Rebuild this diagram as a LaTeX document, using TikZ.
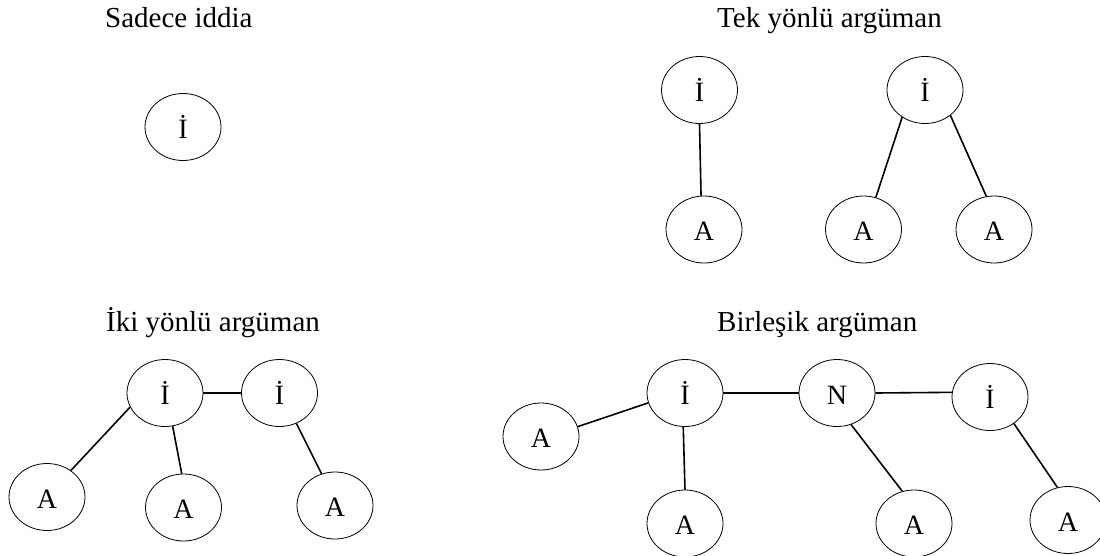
\documentclass[tikz,border=0pt]{standalone}
\usepackage{fontspec}
\setmainfont{Liberation Serif}
\usetikzlibrary{shapes.geometric}
\begin{document}
\begin{tikzpicture}[x=1pt,y=-1pt,
  claim/.style={draw, ellipse, line width=0.8pt, minimum width=76pt, minimum height=67pt,
    inner sep=0pt, text height=22pt, text depth=0pt, font=\fontsize{28}{32}\selectfont},
  title/.style={anchor=base west, inner sep=0pt, font=\fontsize{29}{34}\selectfont},
  link/.style={line width=1.6pt}]
\useasboundingbox (0,0) rectangle (1100,555);

% Sadece iddia
\node[title] (t1) at (105,27) {Sadece iddia};
\node[claim] (s1) at (183,127) {İ};

% Tek yönlü argüman
\node[title] (t2) at (717,27) {Tek yönlü argüman};
\node[claim] (ti1) at (699.5,90) {İ};
\node[claim] (ta1) at (704,229.5) {A};
\node[claim] (ti2) at (925,90) {İ};
\node[claim] (ta2) at (863.5,229.5) {A};
\node[claim] (ta3) at (994,229.5) {A};
\draw[link] (ti1.270) -- (ta1.95);
\draw[link] (ti2.230) -- (ta2.69);
\draw[link] (ti2.315) -- (ta3.103);

% İki yönlü argüman
\node[title] (t3) at (106,331) {İki yönlü argüman};
\node[claim] (ii1) at (165,393) {İ};
\node[claim] (ii2) at (279.5,393) {İ};
\node[claim] (ia1) at (47,497) {A};
\node[claim] (ia2) at (183.5,507.5) {A};
\node[claim] (ia3) at (335,505.5) {A};
\draw[link] (ii1) -- (ii2);
\draw[link] (ii1.202) -- (ia1.48);
\draw[link] (ii1.283) -- (ia2.93);
\draw[link] (ii2.299) -- (ia3.113);

% Birleşik argüman
\node[title] (t4) at (717,331) {Birleşik argüman};
\node[claim] (ba1) at (541,436.5) {A};
\node[claim] (bi1) at (685,393) {İ};
\node[claim] (bn) at (837,393) {N};
\node[claim] (bi2) at (990,397) {İ};
\node[claim] (ba2) at (685,523.5) {A};
\node[claim] (ba3) at (914,523.5) {A};
\node[claim] (ba4) at (1068,520) {A};
\draw[link] (ba1.15) -- (bi1.195);
\draw[link] (bi1) -- (bn);
\draw[link] (bn.east) -- (bi2.173);
\draw[link] (bi1.267) -- (ba2.90);
\draw[link] (bn.294) -- (ba3.110);
\draw[link] (bi2.312) -- (ba4.108);
\end{tikzpicture}
\end{document}
